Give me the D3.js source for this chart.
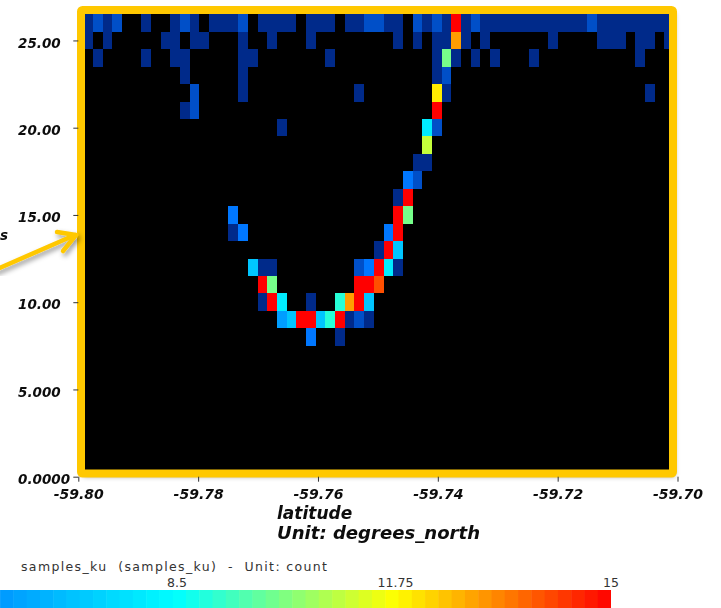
<!DOCTYPE html>
<html><head><meta charset="utf-8">
<script src="https://cdn.jsdelivr.net/npm/d3@7"></script>
<style>
html,body{margin:0;padding:0;background:#fff;overflow:hidden}
svg{display:block}
.axt{font-family:"DejaVu Sans",sans-serif;font-weight:700;font-style:italic;fill:#111}
.lbl{font-family:"DejaVu Sans",sans-serif;fill:#333}
</style></head><body>
<svg id="c" width="721" height="608"></svg>
<script>
// Latitude bin size and altitude rows: each row lists [latitude bin, samples count]
const latStart = -59.8, latStep = 0.001617;
const row26 = [[1,1],[2,3],[3,1],[4,3],[7,1],[10,1],[11,3],[12,1],[14,1],[15,1],[16,1],[17,3],[19,1],[20,1],[21,1],[22,1],[24,1],[25,1],[26,1],[28,1],[29,1],[30,3],[31,3],[32,1],[33,1],[35,3],[36,1],[37,3],[38,1],[39,15],[40,1],[41,3],[42,1],[43,1],[44,1],[45,1],[46,1],[47,1],[48,1],[49,1],[50,1],[51,1],[52,1],[53,3],[54,1],[55,1],[56,1],[57,1],[58,1],[59,1],[60,1],[61,1]];
const row25 = [[1,1],[3,1],[9,1],[10,1],[12,1],[13,1],[17,1],[20,1],[24,1],[33,1],[35,1],[37,1],[38,1],[39,13],[40,1],[42,1],[49,1],[54,1],[55,1],[56,1],[58,1],[59,1],[61,1]];
const row24 = [[2,1],[7,1],[10,1],[11,1],[17,1],[18,1],[26,1],[37,1],[38,10],[39,1],[41,1],[43,1],[47,1],[58,1]];
const row23 = [[11,1],[17,1],[37,1],[38,3]];
const row22 = [[12,3],[17,1],[29,1],[37,12],[38,1],[59,1]];
const row21 = [[11,1],[12,3],[37,15]];
const row20 = [[21,1],[36,8],[37,3]];
const row19 = [[36,11]];
const row18 = [[35,1],[36,1]];
const row17 = [[34,5],[35,3]];
const row16 = [[33,1],[34,15]];
const row15 = [[16,5],[33,15],[34,10]];
const row14 = [[16,1],[17,5],[32,5],[33,15]];
const row13 = [[31,1],[32,15],[33,7]];
const row12 = [[18,7],[19,1],[20,1],[29,3],[30,5],[31,15],[32,8],[33,1]];
const row11 = [[19,15],[20,10],[29,15],[30,15],[31,14]];
const row10 = [[19,1],[20,15],[21,8],[24,1],[27,9],[28,13],[29,15],[30,7]];
const row9 = [[21,6],[22,7],[23,15],[24,15],[25,7],[26,9],[27,15],[28,1],[29,3],[30,1]];
const row8 = [[24,5],[27,1]];
const altitudes = [26,25,24,23,22,21,20,19,18,17,16,15,14,13,12,11,10,9,8];
const rows = [row26,row25,row24,row23,row22,row21,row20,row19,row18,row17,row16,row15,row14,row13,row12,row11,row10,row9,row8];

const xTicks = [-59.80,-59.78,-59.76,-59.74,-59.72,-59.70];
const xTickLabels = ["-59.80","-59.78","-59.76","-59.74","-59.72","-59.70"];
const yTicks = [0,5,10,15,20,25];
const yTickLabels = ["0.0000","5.000","10.00","15.00","20.00","25.00"];
const colorStops = [1,3,5,8.5,10.125,11.75,13.375,15];
const colorRange = ["#002a8a","#0050c8","#0077ff","#00ffff","#80ff80","#ffff00","#ff8000","#ff0000"];
const barTicks = [8.5,11.75,15];
const barTickLabels = ["8.5","11.75","15"];
const barStart = 5.85;
const barSteps = 46;

const svg = d3.select("#c");
const defs = svg.append("defs");
const sh = defs.append("filter").attr("id","shadow").attr("x","-10%").attr("y","-10%").attr("width","125%").attr("height","125%");
sh.append("feDropShadow").attr("dx",2).attr("dy",3).attr("stdDeviation",2.5).attr("flood-color","#000").attr("flood-opacity",.4);
const soft = defs.append("filter").attr("id","soft").attr("x","-2%").attr("y","-2%").attr("width","104%").attr("height","104%");
soft.append("feGaussianBlur").attr("stdDeviation",0.35);
defs.append("clipPath").attr("id","inner").append("rect").attr("x",85).attr("y",14).attr("width",584).attr("height",456);

const x = d3.scaleLinear().domain([-59.8,-59.7]).range([78.3,677.5]);
const y = d3.scaleLinear().domain([0,27]).range([476.7,5.55]);
const color = d3.scaleLinear().domain(colorStops).range(colorRange).clamp(true);
const barX = d3.scaleLinear().domain([8.5,15]).range([177,611]);

// Frame body
svg.append("rect").attr("x",81).attr("y",10).attr("width",592).attr("height",463.5).attr("fill","#000").attr("filter","url(#shadow)");

// Cells
const cells = rows.flatMap((r,i)=>r.map(([b,c])=>({lat:latStart+b*latStep,alt:altitudes[i],c})));
svg.append("g").attr("clip-path","url(#inner)").append("g").attr("filter","url(#soft)")
  .selectAll("rect").data(cells).join("rect")
  .attr("shape-rendering","crispEdges")
  .attr("x",d=>x(d.lat-latStep/2))
  .attr("width",d=>x(d.lat+latStep/2)-x(d.lat-latStep/2))
  .attr("y",d=>y(d.alt+.5))
  .attr("height",d=>y(d.alt-.5)-y(d.alt+.5))
  .attr("fill",d=>color(d.c));

// Yellow frame
svg.append("rect").attr("x",81).attr("y",10).attr("width",592).attr("height",463.5).attr("rx",1.5)
  .attr("fill","none").attr("stroke","#ffc800").attr("stroke-width",8);

// Arrow with annotation remnant
const arrow = svg.append("g").attr("filter","url(#shadow)").attr("fill","none").attr("stroke","#ffc800").attr("stroke-width",4.5).attr("stroke-linecap","round").attr("stroke-linejoin","round");
arrow.append("path").attr("d","M-5,270 L75,235");
arrow.append("path").attr("d","M57,232 L76,235 L63,251");
svg.append("text").attr("class","axt").attr("x",0).attr("y",240).attr("font-size",13.5).text("s").attr("filter","url(#soft)");

// Axes
const xAxis = d3.axisBottom(x).tickValues(xTicks).tickSize(5).tickFormat((d,i)=>xTickLabels[i]);
const yAxis = d3.axisLeft(y).tickValues(yTicks).tickSize(5).tickFormat((d,i)=>yTickLabels[i]);
const gx = svg.append("g").attr("transform","translate(0,476.7)").attr("filter","url(#soft)").call(xAxis);
const gy = svg.append("g").attr("transform","translate(78.3,0)").attr("filter","url(#soft)").call(yAxis);
[gx,gy].forEach(g=>{g.select(".domain").remove();g.selectAll("line").attr("stroke","#333");});
gx.selectAll("text").attr("class","axt").attr("font-size",14).attr("y",11).attr("dy",".8em");
gy.selectAll("text").attr("class","axt").attr("font-size",13.5).attr("text-anchor","start").attr("x",-60.3).attr("dy","0.5em");

// Axis title
svg.append("text").attr("class","axt").attr("x",277).attr("y",519).attr("font-size",17).attr("filter","url(#soft)").text("latitude");
svg.append("text").attr("class","axt").attr("x",277).attr("y",539).attr("font-size",17).attr("textLength",203).attr("lengthAdjust","spacingAndGlyphs").attr("filter","url(#soft)").text("Unit: degrees_north");

// Legend
svg.append("text").attr("class","lbl").attr("x",21).attr("y",571).attr("font-size",12.5).attr("textLength",306).style("white-space","pre").text("samples_ku  (samples_ku)  -  Unit: count");
svg.append("g").selectAll("text").data(barTicks).join("text").attr("class","lbl")
  .attr("x",d=>barX(d)+(d===11.75?1.5:0)).attr("y",587).attr("text-anchor","middle").attr("font-size",12.5).text((d,i)=>barTickLabels[i]);
const stepW = (barX(15)-barX(barStart))/barSteps;
const stepVals = d3.range(barSteps).map(i=>barStart+(15-barStart)*(i+.5)/barSteps);
svg.append("g").selectAll("rect").data(stepVals).join("rect")
  .attr("x",d=>barX(d)-stepW/2).attr("width",d=>stepW+(d>14.9?0:.5)).attr("y",590).attr("height",18)
  .attr("fill",d=>color(d));
</script></body></html>
